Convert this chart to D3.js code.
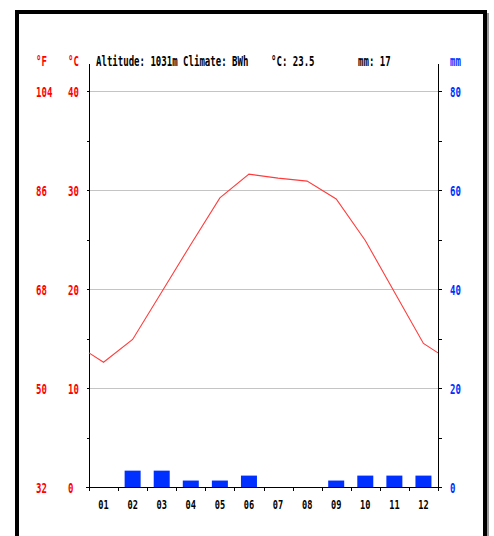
<!DOCTYPE html>
<html><head><meta charset="utf-8">
<script src="https://cdn.jsdelivr.net/npm/d3@7"></script>
<style>
html,body{margin:0;padding:0;background:#fff;overflow:hidden}
text{font-family:"DejaVu Sans Mono",monospace;font-weight:bold}
</style></head>
<body><svg id="c" width="494" height="536"></svg>
<script>
const months = ["01","02","03","04","05","06","07","08","09","10","11","12"];
const tempC = [12.6,14.9,19.7,24.5,29.2,31.6,31.2,30.9,29.1,24.9,19.7,14.5];
const precipMM = [0,3,3,1,1,2,0,0,1,2,2,2];
const celsiusTicks = [0,10,20,30,40];
const fahrenheitTicks = [32,50,68,86,104];
const mmTicks = [0,20,40,60,80];
const headerParts = ["Altitude: 1031m Climate: BWh","°C: 23.5","mm: 17"];

const svg = d3.select("#c");
// frame
svg.append("rect").attr("x",17).attr("y",13).attr("width",472).attr("height",540).attr("fill","#9a9a9a");
svg.append("rect").attr("x",15).attr("y",10).attr("width",472).attr("height",540).attr("fill","#000");
svg.append("rect").attr("x",19).attr("y",14).attr("width",464).attr("height",540).attr("fill","#fff");

const L=89, R=438, T0=487, T40=91;
const x = d3.scaleBand().domain(months).range([L,R]).padding(0);
const yT = d3.scaleLinear().domain([0,40]).range([T0,T40]);
const yP = d3.scaleLinear().domain([0,80]).range([T0,T40]);
const sx = 0.67, fs = 13.5;

function label(g,tx,ty,str,color,anchor,size,scx){
  const t = g.append("text").attr("transform",`translate(${tx},${ty}) scale(${scx||sx},1)`)
    .attr("font-size",size||fs).attr("fill",color).text(str);
  if(anchor) t.attr("text-anchor",anchor);
  return t;
}

// grid
svg.append("g").selectAll("line").data(celsiusTicks.filter(d=>d>0)).join("line")
  .attr("x1",L).attr("x2",R).attr("y1",d=>Math.round(yT(d))+0.5).attr("y2",d=>Math.round(yT(d))+0.5)
  .attr("stroke","#c4c4c4").attr("stroke-width",1);

// bars
const bw = 16;
svg.append("g").selectAll("rect").data(months.map((m,i)=>({m,v:precipMM[i]})).filter(d=>d.v>0)).join("rect")
  .attr("x",d=>x(d.m)+x.bandwidth()/2-bw/2).attr("width",bw)
  .attr("y",d=>yP(d.v)-1.5).attr("height",d=>T0-yP(d.v)+1.5)
  .attr("fill","#0030ff");

// axes
const ax = svg.append("g").attr("stroke","#000").attr("shape-rendering","crispEdges");
ax.append("line").attr("x1",L+0.5).attr("x2",L+0.5).attr("y1",64).attr("y2",490);
ax.append("line").attr("x1",R+0.5).attr("x2",R+0.5).attr("y1",64).attr("y2",490);
const leftAxis = d3.axisLeft(yT).tickValues(d3.range(0,41,5)).tickSize(3).tickFormat("");
svg.append("g").attr("transform",`translate(${L+0.5},0)`).call(leftAxis).call(g=>g.select(".domain").remove()).attr("shape-rendering","crispEdges");
const rightAxis = d3.axisRight(yP).tickValues(d3.range(0,81,10)).tickSize(3).tickFormat("");
svg.append("g").attr("transform",`translate(${R+0.5},0)`).call(rightAxis).call(g=>g.select(".domain").remove()).attr("shape-rendering","crispEdges");
ax.append("line").attr("x1",L-3).attr("x2",R+3).attr("y1",T0+0.5).attr("y2",T0+0.5);
const bounds = months.map(m=>x(m)).concat([R]);
ax.selectAll("line.bt").data(bounds).join("line").attr("class","bt")
  .attr("x1",d=>d+0.5).attr("x2",d=>d+0.5).attr("y1",T0).attr("y2",T0+4);

// temperature line (extended to the plot edges with Dec/Jan midpoint)
const edge = (tempC[0]+tempC[11])/2;
const pts = [[L,edge]].concat(months.map((m,i)=>[x(m)+x.bandwidth()/2,tempC[i]])).concat([[R,edge]]);
svg.append("path").datum(pts).attr("d",d3.line().x(d=>d[0]).y(d=>yT(d[1])))
  .attr("fill","none").attr("stroke","#ff3c3c").attr("stroke-width",1.1);

// labels
const lg = svg.append("g");
celsiusTicks.forEach((c,i)=>{
  label(lg,36,yT(c)+5.5,String(fahrenheitTicks[i]),"#ff0000");
  label(lg,68,yT(c)+5.5,String(c),"#ff0000");
});
mmTicks.forEach(v=>label(lg,450,yP(v)+5.5,String(v),"#0030ff"));
label(lg,36,65.5,"°F","#ff0000");
label(lg,68,65.5,"°C","#ff0000");
label(lg,450,65.5,"mm","#0030ff");
label(lg,96,65.5,headerParts[0],"#000");
label(lg,271,65.5,headerParts[1],"#000");
label(lg,358,65.5,headerParts[2],"#000");
months.forEach(m=>label(lg,x(m)+x.bandwidth()/2,509,m,"#000","middle",12,0.72));
</script></body></html>
